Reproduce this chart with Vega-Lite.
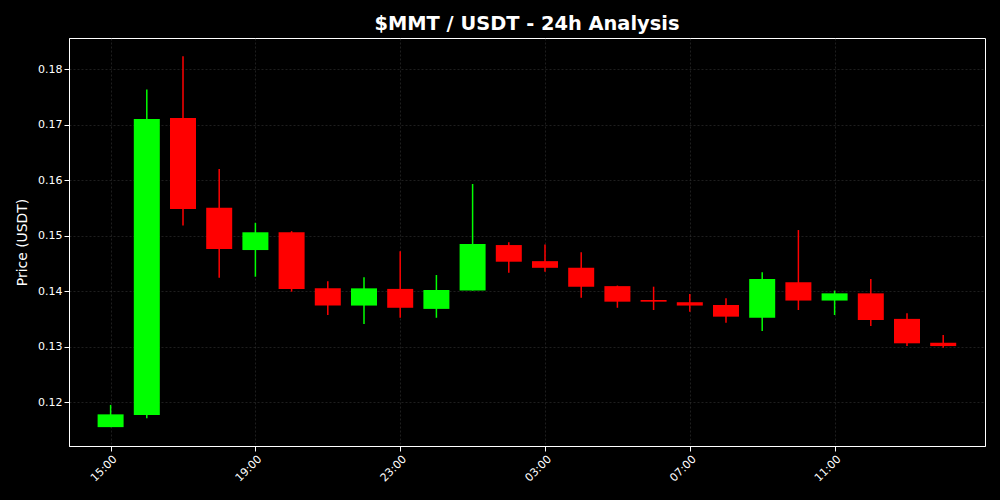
{
  "$schema": "https://vega.github.io/schema/vega-lite/v6.json",
  "width": 916,
  "height": 408,
  "autosize": {"type": "none"},
  "padding": {"left": 69, "top": 38, "right": 15, "bottom": 54},
  "background": "#000000",
  "title": {
    "text": "$MMT / USDT - 24h Analysis",
    "font": "DejaVu Sans",
    "fontSize": 19.4,
    "fontWeight": "bold",
    "color": "#ffffff",
    "anchor": "middle",
    "offset": 4
  },
  "config": {
    "view": {"stroke": "#ffffff", "strokeWidth": 1},
    "axis": {
      "labelFont": "DejaVu Sans",
      "labelFontSize": 11,
      "labelColor": "#ffffff",
      "titleFont": "DejaVu Sans",
      "titleFontSize": 13.9,
      "titleFontWeight": "normal",
      "titleColor": "#ffffff",
      "tickColor": "#ffffff",
      "tickSize": 5,
      "domainColor": "#ffffff",
      "gridColor": "#444444",
      "gridOpacity": 0.55,
      "gridDash": [2, 2],
      "gridWidth": 0.8
    }
  },
  "data": {
    "values": [
      {"t": "2024-01-01T15:00:00Z", "open": 0.1155, "high": 0.1195, "low": 0.1155, "close": 0.1178},
      {"t": "2024-01-01T16:00:00Z", "open": 0.1177, "high": 0.1763, "low": 0.1171, "close": 0.1710},
      {"t": "2024-01-01T17:00:00Z", "open": 0.1712, "high": 0.1823, "low": 0.1518, "close": 0.1548},
      {"t": "2024-01-01T18:00:00Z", "open": 0.1550, "high": 0.1620, "low": 0.1424, "close": 0.1476},
      {"t": "2024-01-01T19:00:00Z", "open": 0.1474, "high": 0.1523, "low": 0.1426, "close": 0.1506},
      {"t": "2024-01-01T20:00:00Z", "open": 0.1506, "high": 0.1508, "low": 0.1399, "close": 0.1404},
      {"t": "2024-01-01T21:00:00Z", "open": 0.1405, "high": 0.1418, "low": 0.1357, "close": 0.1374},
      {"t": "2024-01-01T22:00:00Z", "open": 0.1374, "high": 0.1425, "low": 0.1341, "close": 0.1405},
      {"t": "2024-01-01T23:00:00Z", "open": 0.1404, "high": 0.1472, "low": 0.1352, "close": 0.1370},
      {"t": "2024-01-02T00:00:00Z", "open": 0.1368, "high": 0.1429, "low": 0.1352, "close": 0.1402},
      {"t": "2024-01-02T01:00:00Z", "open": 0.1401, "high": 0.1593, "low": 0.1401, "close": 0.1485},
      {"t": "2024-01-02T02:00:00Z", "open": 0.1483, "high": 0.1488, "low": 0.1433, "close": 0.1453},
      {"t": "2024-01-02T03:00:00Z", "open": 0.1454, "high": 0.1484, "low": 0.1435, "close": 0.1442},
      {"t": "2024-01-02T04:00:00Z", "open": 0.1442, "high": 0.1470, "low": 0.1388, "close": 0.1408},
      {"t": "2024-01-02T05:00:00Z", "open": 0.1409, "high": 0.1410, "low": 0.1370, "close": 0.1381},
      {"t": "2024-01-02T06:00:00Z", "open": 0.1384, "high": 0.1408, "low": 0.1366, "close": 0.1381},
      {"t": "2024-01-02T07:00:00Z", "open": 0.1380, "high": 0.1395, "low": 0.1363, "close": 0.1374},
      {"t": "2024-01-02T08:00:00Z", "open": 0.1375, "high": 0.1387, "low": 0.1343, "close": 0.1354},
      {"t": "2024-01-02T09:00:00Z", "open": 0.1352, "high": 0.1434, "low": 0.1328, "close": 0.1422},
      {"t": "2024-01-02T10:00:00Z", "open": 0.1416, "high": 0.1510, "low": 0.1366, "close": 0.1383},
      {"t": "2024-01-02T11:00:00Z", "open": 0.1383, "high": 0.1401, "low": 0.1357, "close": 0.1396},
      {"t": "2024-01-02T12:00:00Z", "open": 0.1396, "high": 0.1422, "low": 0.1337, "close": 0.1348},
      {"t": "2024-01-02T13:00:00Z", "open": 0.1350, "high": 0.1360, "low": 0.1301, "close": 0.1306},
      {"t": "2024-01-02T14:00:00Z", "open": 0.1307, "high": 0.1321, "low": 0.1298, "close": 0.1301}
    ]
  },
  "encoding": {
    "x": {
      "field": "t",
      "type": "temporal",
      "scale": {
        "type": "utc",
        "domain": [
          {"year": 2024, "month": 1, "date": 1, "hours": 13, "minutes": 59, "seconds": 20, "utc": true},
          {"year": 2024, "month": 1, "date": 2, "hours": 15, "minutes": 1, "utc": true}
        ]
      },
      "axis": {
        "title": null,
        "values": [
          {"year": 2024, "month": 1, "date": 1, "hours": 15, "utc": true},
          {"year": 2024, "month": 1, "date": 1, "hours": 19, "utc": true},
          {"year": 2024, "month": 1, "date": 1, "hours": 23, "utc": true},
          {"year": 2024, "month": 1, "date": 2, "hours": 3, "utc": true},
          {"year": 2024, "month": 1, "date": 2, "hours": 7, "utc": true},
          {"year": 2024, "month": 1, "date": 2, "hours": 11, "utc": true}
        ],
        "labelExpr": "utcFormat(datum.value, '%H:%M')",
        "labelAngle": -45,
        "labelAlign": "right",
        "labelBaseline": "top",
        "labelPadding": 2
      }
    },
    "color": {
      "condition": {"test": "datum.close >= datum.open", "value": "#00ff00"},
      "value": "#ff0000"
    }
  },
  "layer": [
    {
      "mark": {"type": "rule", "strokeWidth": 1.5},
      "encoding": {
        "y": {
          "field": "low",
          "type": "quantitative",
          "scale": {"domain": [0.1121, 0.1856], "nice": false, "zero": false},
          "axis": {
            "title": "Price (USDT)",
            "values": [0.12, 0.13, 0.14, 0.15, 0.16, 0.17, 0.18],
            "format": ".2f",
            "titlePadding": 8
          }
        },
        "y2": {"field": "high"}
      }
    },
    {
      "mark": {"type": "bar", "width": 26},
      "encoding": {
        "y": {"field": "open", "type": "quantitative"},
        "y2": {"field": "close"}
      }
    }
  ]
}
